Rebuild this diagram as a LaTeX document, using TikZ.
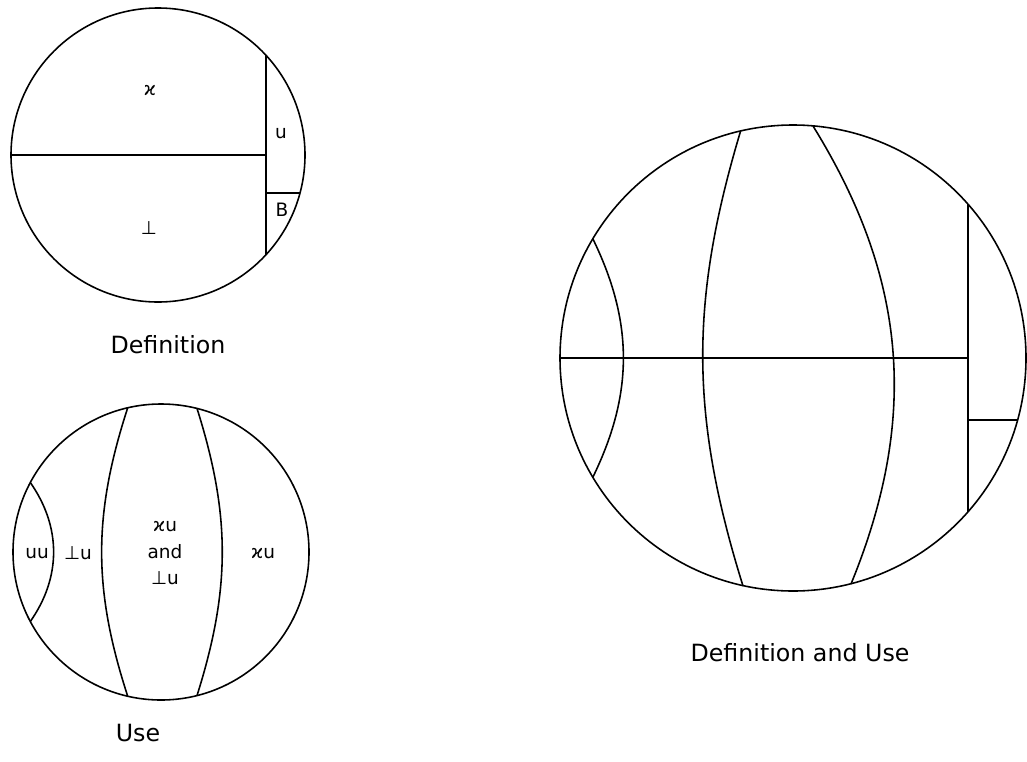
\documentclass[tikz,border=0pt]{standalone}
\usepackage{fontspec}
\setmainfont{DejaVu Sans}
\begin{document}
\begin{tikzpicture}[x=0.02cm,y=-0.02cm,line width=0.9pt,
  lbl/.style={font=\fontsize{10.5}{13}\selectfont,inner sep=0pt,align=center},
  caption/.style={font=\fontsize{13.5}{16}\selectfont,inner sep=0pt}]
\useasboundingbox (0,0) rectangle (1027,761);

% Definition
\draw (158,155) circle (147);
\coordinate (dL) at (11,155); \coordinate (dM) at (266,155);
\coordinate (dT) at (266,55.3); \coordinate (dB) at (266,254.7);
\coordinate (dS) at (266,193); \coordinate (dR) at (300,193);
\draw (dL) -- (dM); \draw (dT) -- (dB); \draw (dS) -- (dR);
\node[lbl] (dkill) at (150,90) {ϰ};
\node[lbl] (dbot) at (149,228) {⊥};
\node[lbl] (dund) at (281,133) {u};
\node[lbl] (dboth) at (282,210) {B};
\node[caption] (dcap) at (168,345) {Definition};

% Use
\draw (161,552) circle (148);
\coordinate (uT1) at (30.3,482.5); \coordinate (uB1) at (30.3,621.5);
\coordinate (uT2) at (127.7,407.8); \coordinate (uB2) at (127.7,696.2);
\coordinate (uT3) at (197,408.4); \coordinate (uB3) at (197,695.6);
\draw (uT1) to[bend left=35] (uB1);
\draw (uT2) to[bend right=18] (uB2);
\draw (uT3) to[bend left=17.5] (uB3);
\node[lbl] (uuu) at (37,553) {uu};
\node[lbl] (ubu) at (78,553) {⊥u};
\node[lbl] (ukb) at (165,553) {ϰu\\[2pt]and\\[2pt]⊥u};
\node[lbl] (uku) at (263,553) {ϰu};
\node[caption] (ucap) at (138,733) {Use};

% Definition and Use
\draw (793,358) circle (233);
\coordinate (bL) at (560,358); \coordinate (bM) at (968,358);
\coordinate (bT) at (968,204.2); \coordinate (bB) at (968,511.8);
\coordinate (bS) at (968,420); \coordinate (bR) at (1017.6,420);
\draw (bL) -- (bM); \draw (bT) -- (bB); \draw (bS) -- (bR);
\coordinate (bT1) at (592.8,238.7); \coordinate (bB1) at (592.8,477.3);
\coordinate (bT2) at (740.6,131); \coordinate (bB2) at (743,586);
\coordinate (bT3) at (813,126); \coordinate (bB3) at (851,584);
\draw (bT1) to[bend left=26] (bB1);
\draw (bT2) to[bend right=17] (bB2);
\draw (bT3) to[bend left=27] (bB3);
\node[caption] (bcap) at (800,653) {Definition and Use};
\end{tikzpicture}
\end{document}
